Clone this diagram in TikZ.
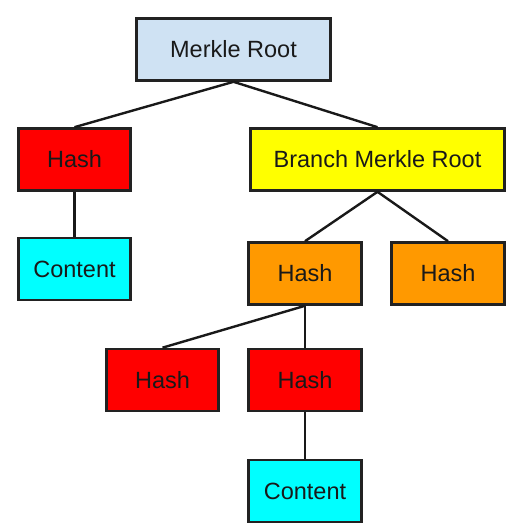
\documentclass[tikz,border=0pt]{standalone}
\usepackage{fontspec}
\setmainfont{Liberation Sans}
\definecolor{rootblue}{HTML}{CFE2F3}
\definecolor{hashred}{HTML}{FF0000}
\definecolor{branchyellow}{HTML}{FFFF00}
\definecolor{contentcyan}{HTML}{00FFFF}
\definecolor{hashorange}{HTML}{FF9900}
\definecolor{edgegray}{HTML}{222222}
\begin{document}
\begin{tikzpicture}[x=1pt,y=-1pt,
  box/.style={draw=edgegray, line width=2.6pt, rectangle, inner sep=0pt,
    minimum height=62pt, text=black!90, font=\fontsize{23.5}{28}\selectfont},
  link/.style={draw=black!90, line width=2.4pt}]
\useasboundingbox (0,0) rectangle (521,529);
\node[box, fill=rootblue, minimum width=194pt] (root) at (233.5,49.5) {Merkle Root};
\node[box, fill=hashred, minimum width=112pt] (h1) at (74.5,159.5) {Hash};
\node[box, fill=branchyellow, minimum width=254pt] (br) at (377.5,159.5) {Branch Merkle Root};
\node[box, fill=contentcyan, minimum width=112pt] (c1) at (74.5,269) {Content};
\node[box, fill=hashorange, minimum width=113pt] (o1) at (305,273.5) {Hash};
\node[box, fill=hashorange, minimum width=113pt] (o2) at (448,273.5) {Hash};
\node[box, fill=hashred, minimum width=112pt] (r1) at (162.5,380) {Hash};
\node[box, fill=hashred, minimum width=113pt] (r2) at (305,380) {Hash};
\node[box, fill=contentcyan, minimum width=113pt] (c2) at (305,491) {Content};
\draw[link] (root.south) -- (h1.north);
\draw[link] (root.south) -- (br.north);
\draw[link] (h1.south) -- (c1.north);
\draw[link] (br.south) -- (o1.north);
\draw[link] (br.south) -- (o2.north);
\draw[link] (o1.south) -- (r1.north);
\draw[link] (o1.south) -- (r2.north);
\draw[link] (r2.south) -- (c2.north);
\end{tikzpicture}
\end{document}
